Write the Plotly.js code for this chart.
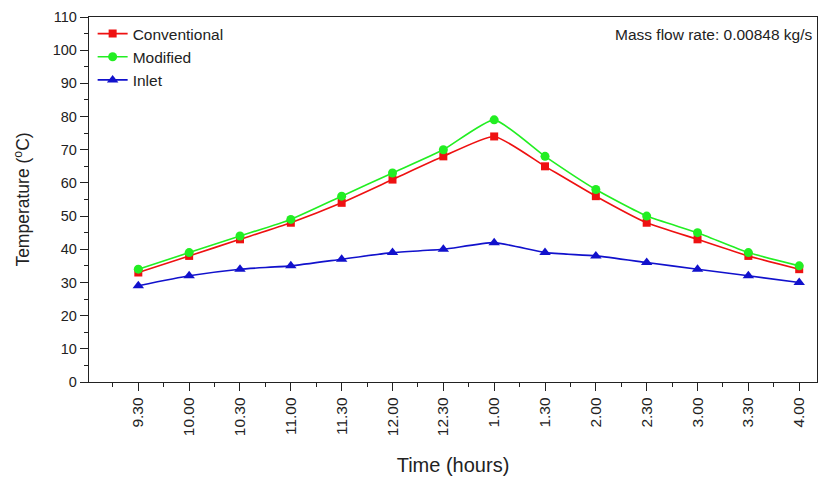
<!DOCTYPE html>
<html>
<head>
<meta charset="utf-8">
<script src="https://cdn.plot.ly/plotly-3.0.1.min.js"></script>
<style>html,body{margin:0;padding:0;background:#fff;}#chart{width:818px;height:481px;}</style>
</head>
<body>
<div id="chart"></div>
<script>
const categories = ["9.30","10.00","10.30","11.00","11.30","12.00","12.30","1.00","1.30","2.00","2.30","3.00","3.30","4.00"];
const conventional = [33, 38, 43, 48, 54, 61, 68, 74, 65, 56, 48, 43, 38, 34];
const modified     = [34, 39, 44, 49, 56, 63, 70, 79, 68, 58, 50, 45, 39, 35];
const inlet        = [29, 32, 34, 35, 37, 39, 40, 42, 39, 38, 36, 34, 32, 30];

const xs = categories.map((c, i) => i);
const font = "Liberation Sans, Arial, sans-serif";

function series(name, y, color, symbol, size) {
  return {
    x: xs, y: y, name: name, type: "scatter", mode: "lines+markers",
    line: {color: color, width: 1.6, shape: "spline", smoothing: 0.5},
    marker: {color: color, symbol: symbol, size: size, line: {width: 0}}
  };
}

const traces = [
  series("Conventional", conventional, "#ee1111", "square", 8),
  series("Modified", modified, "#22ee22", "circle", 9),
  series("Inlet", inlet, "#1111cc", "triangle-up", 10)
];

const layout = {
  width: 818, height: 481,
  margin: {l: 89, r: 1, t: 17, b: 99},
  paper_bgcolor: "#fff", plot_bgcolor: "#fff",
  font: {family: font, color: "#222"},
  showlegend: true,
  legend: {x: 0.005, y: 1.0, xanchor: "left", yanchor: "top",
           font: {size: 15.5, family: font, color: "#222"}, bgcolor: "rgba(0,0,0,0)",
           tracegroupgap: 0},
  xaxis: {
    range: [-0.97, 13.35], tickmode: "array", tickvals: xs, ticktext: categories,
    tickangle: -90, ticks: "outside", ticklen: 8, tickwidth: 1, tickcolor: "#222",
    showline: true, linecolor: "#222", linewidth: 1.2, mirror: true,
    showgrid: false, zeroline: false,
    tickfont: {size: 15.5, family: font, color: "#222"},
    minor: {dtick: 0.5, tick0: 0, ticks: "outside", ticklen: 4, tickcolor: "#222", showgrid: false},
    title: {text: "Time (hours)", font: {size: 20, family: font, color: "#222"}, standoff: 22}
  },
  yaxis: {
    range: [0, 110], dtick: 10, ticks: "outside", ticklen: 8, tickwidth: 1, tickcolor: "#222",
    showline: true, linecolor: "#222", linewidth: 1.2, mirror: true,
    showgrid: false, zeroline: false,
    tickfont: {size: 14.5, family: font, color: "#222"},
    minor: {dtick: 5, ticks: "outside", ticklen: 4, tickcolor: "#222", showgrid: false},
    title: {text: "Temperature (<sup>o</sup>C)", font: {size: 17.5, family: font, color: "#222"}, standoff: 18}
  },
  annotations: [{
    xref: "paper", yref: "paper", x: 0.997, y: 0.98, xanchor: "right", yanchor: "top",
    text: "Mass flow rate: 0.00848 kg/s", showarrow: false,
    font: {size: 15.5, family: font, color: "#222"}
  }]
};

Plotly.newPlot("chart", traces, layout, {displayModeBar: false, staticPlot: true});
</script>
</body>
</html>
